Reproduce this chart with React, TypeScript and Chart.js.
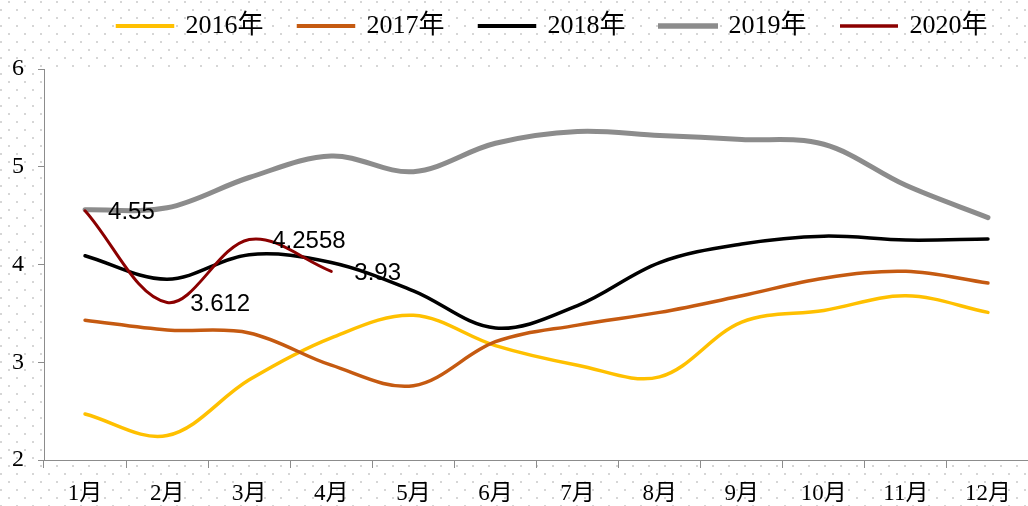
import React, { useEffect, useRef } from "react";
import { Chart, registerables } from "chart.js";

Chart.register(...registerables);

const months = ["1月", "2月", "3月", "4月", "5月", "6月", "7月", "8月", "9月", "10月", "11月", "12月"];
const seriesNames = ["2016年", "2017年", "2018年", "2019年", "2020年"];
const y2016 = [2.47, 2.25, 2.82, 3.25, 3.48, 3.17, 2.97, 2.85, 3.41, 3.53, 3.68, 3.51];
const y2017 = [3.43, 3.33, 3.3, 2.97, 2.76, 3.21, 3.38, 3.51, 3.68, 3.86, 3.93, 3.81];
const y2018 = [4.09, 3.85, 4.1, 4.02, 3.73, 3.35, 3.58, 4.02, 4.21, 4.29, 4.25, 4.26];
const y2019 = [4.56, 4.58, 4.89, 5.11, 4.95, 5.24, 5.36, 5.32, 5.28, 5.23, 4.81, 4.48];
const y2020 = [4.55, 3.612, 4.2558, 3.93];
const yTicks = [2, 3, 4, 5, 6];

const colors = ["#FFC000", "#C55A11", "#000000", "#8C8C8C", "#8B0000"];
const widths = [3.5, 3.5, 3.5, 5, 3];
const allSeries = [y2016, y2017, y2018, y2019, y2020];

const SERIF = "'Liberation Serif', 'Noto Sans CJK SC', serif";

const bgPlugin = {
  id: "bgDots",
  beforeDraw(chart: any) {
    const { ctx, width, height, chartArea } = chart;
    ctx.save();
    ctx.fillStyle = "#ffffff";
    ctx.fillRect(0, 0, width, height);
    ctx.fillStyle = "#d6d6d6";
    for (let j = 0; j * 8 < height; j++) {
      const off = j % 2 === 0 ? 8 : 0;
      for (let x = off; x < width; x += 16) {
        ctx.fillRect(x, j * 8 + 1, 2, 2);
      }
    }
    ctx.fillStyle = "#ffffff";
    ctx.fillRect(chartArea.left, chartArea.top, chartArea.right - chartArea.left, chartArea.bottom - chartArea.top);
    ctx.restore();
  },
};

const legendTweak = {
  id: "legendTweak",
  beforeLayout(chart: any) {
    const lg = chart.legend;
    if (lg && !lg._tweaked) {
      const orig = lg.fit.bind(lg);
      lg.fit = function () {
        orig();
        this.height += 20;
      };
      lg._tweaked = true;
    }
  },
  afterLayout(chart: any) {
    const lg = chart.legend;
    if (lg) {
      lg.left += 38;
      lg.right += 38;
    }
  },
};

const labelPlugin = {
  id: "dataLabels2020",
  afterDatasetsDraw(chart: any) {
    const { ctx } = chart;
    const meta = chart.getDatasetMeta(4);
    ctx.save();
    ctx.font = "24px 'Liberation Sans', 'Noto Sans', sans-serif";
    ctx.fillStyle = "#000000";
    ctx.textAlign = "left";
    ctx.textBaseline = "middle";
    meta.data.forEach((pt: any, i: number) => {
      ctx.fillText(String(y2020[i]), pt.x + 23, pt.y + 2);
    });
    ctx.restore();
  },
};

export default function App() {
  const ref = useRef<HTMLCanvasElement | null>(null);
  useEffect(() => {
    if (!ref.current) return;
    const chart = new Chart(ref.current, {
      type: "line",
      data: {
        labels: months,
        datasets: seriesNames.map((name, i) => ({
          label: name,
          data: allSeries[i],
          borderColor: colors[i],
          backgroundColor: colors[i],
          borderWidth: widths[i],
          borderCapStyle: "round",
          pointRadius: 0,
          tension: 0.35,
          fill: false,
          order: 4 - i,
        })),
      },
      options: {
        responsive: false,
        animation: false,
        layout: { padding: { top: -22, right: 11, left: 0, bottom: 0 } },
        plugins: {
          tooltip: { enabled: false },
          legend: {
            position: "top",
            labels: {
              boxWidth: 55,
              boxHeight: 0.5,
              padding: 35,
              color: "#000",
              font: { family: SERIF, size: 26 },
              sort: (a: any, b: any) => a.datasetIndex - b.datasetIndex,
            },
          },
        },
        scales: {
          x: {
            offset: true,
            afterFit(scale: any) {
              scale.height = 46;
            },
            border: { color: "#8c8c8c", width: 1 },
            grid: { display: true, offset: true, drawOnChartArea: false, drawTicks: true, tickLength: 8, color: "#8c8c8c" },
            ticks: { color: "#000", font: { family: SERIF, size: 23 }, padding: 12, maxRotation: 0, autoSkip: false },
          },
          y: {
            min: 2,
            max: 6,
            afterFit(scale: any) {
              scale.width = 44;
            },
            afterBuildTicks(scale: any) {
              scale.ticks = yTicks.map((v) => ({ value: v }));
            },
            border: { color: "#8c8c8c", width: 1 },
            grid: { display: true, drawOnChartArea: false, drawTicks: true, tickLength: 6, color: "#8c8c8c" },
            ticks: { color: "#000", font: { family: SERIF, size: 24 }, padding: 14 },
          },
        },
      },
      plugins: [bgPlugin, legendTweak, labelPlugin],
    } as any);
    return () => chart.destroy();
  }, []);
  return (
    <div style={{ position: "fixed", left: 0, top: 0, width: 1028, height: 506, overflow: "hidden" }}>
      <canvas ref={ref} width={1040} height={506} style={{ display: "block" }} />
    </div>
  );
}
